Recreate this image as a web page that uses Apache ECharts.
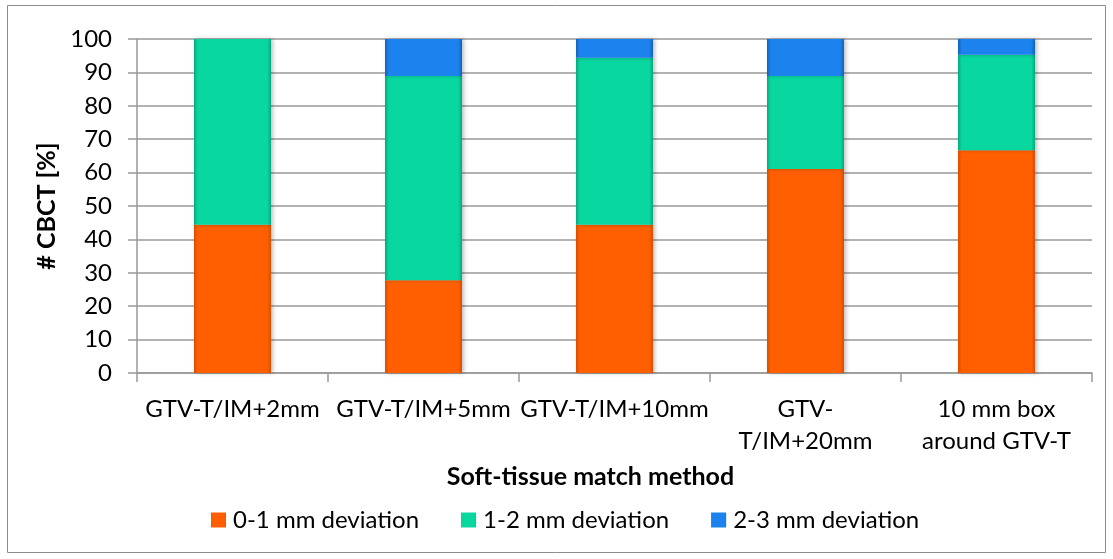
<!DOCTYPE html>
<html>
<head>
<meta charset="utf-8">
<script src="https://cdn.jsdelivr.net/npm/echarts@6/dist/echarts.min.js"></script>
<style>
html,body{margin:0;padding:0;background:#fff;}
#chart{width:1113px;height:559px;}
</style>
</head>
<body>
<div id="chart"></div>
<script>
var categories = ['GTV-T/IM+2mm', 'GTV-T/IM+5mm', 'GTV-T/IM+10mm', 'GTV-\nT/IM+20mm', '10 mm box\naround GTV-T'];
var dev01 = [44.4, 27.8, 44.4, 61.1, 66.7];
var dev12 = [55.6, 61.1, 50.0, 27.8, 28.6];
var dev23 = [0, 11.1, 5.6, 11.1, 4.8];
var seriesNames = ['0-1 mm deviation', '1-2 mm deviation', '2-3 mm deviation'];
var yTicks = [0, 10, 20, 30, 40, 50, 60, 70, 80, 90, 100];

var FONT = 'Lato, "Noto Sans", sans-serif';

function bevel(main, edge) {
  return {
    type: 'linear', x: 0, y: 0, x2: 1, y2: 0,
    colorStops: [
      {offset: 0, color: edge},
      {offset: 0.05, color: main},
      {offset: 0.95, color: main},
      {offset: 1, color: edge}
    ]
  };
}

var colors = [
  {main: '#FF5F00', edge: '#D94E00'},
  {main: '#08D8A0', edge: '#06A87C'},
  {main: '#1C82EE', edge: '#1262B8'}
];
var seriesData = [dev01, dev12, dev23];

var chart = echarts.init(document.getElementById('chart'), null, {renderer: 'canvas'});
var option = {
  animation: false,
  backgroundColor: '#fff',
  color: colors.map(function (c) { return c.main; }),
  grid: {left: 137, right: 21, top: 39, bottom: 186, containLabel: false},
  legend: {
    bottom: 22,
    left: 206,
    itemWidth: 15,
    itemHeight: 15,
    itemGap: 42,
    icon: 'rect',
    textStyle: {fontFamily: FONT, fontSize: 24, color: '#000', padding: [0, 0, 0, 2]},
    data: seriesNames
  },
  xAxis: {
    type: 'category',
    data: categories,
    boundaryGap: true,
    name: 'Soft-tissue match method',
    nameLocation: 'middle',
    nameGap: 91,
    nameTextStyle: {fontFamily: FONT, fontSize: 25, fontWeight: 'bold', color: '#000', verticalAlign: 'top', padding: [0, 48, 0, 0]},
    axisLine: {lineStyle: {color: '#999', width: 1.5}},
    axisTick: {show: true, interval: 0, alignWithLabel: false, length: 9, lineStyle: {color: '#999', width: 1.5}},
    axisLabel: {interval: 0, fontFamily: FONT, fontSize: 24, color: '#000', margin: 20, lineHeight: 32}
  },
  yAxis: {
    type: 'value',
    min: 0, max: 100, interval: 10,
    name: '# CBCT [%]',
    nameLocation: 'middle',
    nameGap: 77,
    nameRotate: 90,
    nameTextStyle: {fontFamily: FONT, fontSize: 25, fontWeight: 'bold', color: '#000'},
    axisLine: {show: true, lineStyle: {color: '#999', width: 1.5}},
    axisTick: {show: true, length: 9, lineStyle: {color: '#999', width: 1.5}},
    splitLine: {show: true, lineStyle: {color: '#999', width: 1.5}},
    axisLabel: {fontFamily: FONT, fontSize: 24, color: '#000', margin: 25,
      formatter: function (v) { return yTicks.indexOf(v) >= 0 ? String(v) : ''; }}
  },
  graphic: [{
    type: 'rect',
    shape: {x: 7.5, y: 5.5, width: 1098, height: 547},
    style: {fill: 'none', stroke: '#8c8c8c', lineWidth: 1},
    silent: true, z: -1
  }],
  series: seriesNames.map(function (n, i) {
    return {
      name: n,
      type: 'bar',
      stack: 'total',
      barWidth: 77,
      data: seriesData[i],
      itemStyle: {
        color: bevel(colors[i].main, colors[i].edge),
        shadowColor: 'rgba(0,0,0,0.25)',
        shadowBlur: 4,
        shadowOffsetX: 2,
        shadowOffsetY: 0
      }
    };
  })
};
chart.setOption(option);
</script>
</body>
</html>
